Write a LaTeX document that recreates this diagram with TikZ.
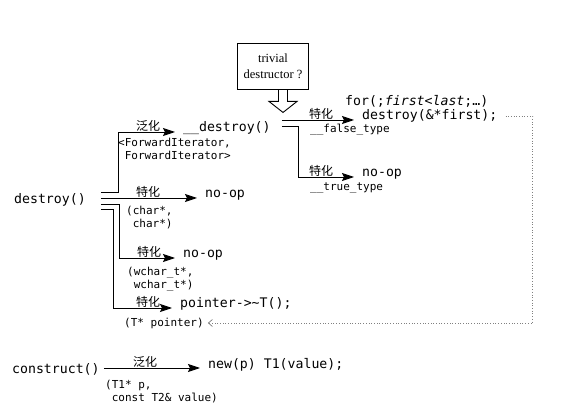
\documentclass[tikz,border=0pt]{standalone}
\usepackage{fontspec}
\usetikzlibrary{arrows.meta,calc}
\setmainfont{Liberation Serif}
\newfontfamily\code{DejaVu Sans Mono}
\newfontfamily\cjk{Noto Sans CJK SC}

\begin{document}
\begin{tikzpicture}[x=1pt, y=-1pt,
  every node/.style={inner sep=0pt},
  big/.style={font=\code\fontsize{13.2}{15}\selectfont},
  small/.style={font=\code\fontsize{11}{13}\selectfont, align=left, anchor=west},
  tag/.style={font=\cjk\fontsize{12}{13}\selectfont, anchor=south, inner sep=0.3pt},
  tgt/.style={big, anchor=base west, inner xsep=8pt},
  conn/.style={line width=0.9pt},
  arr/.style={conn, -{Stealth[length=12pt,width=8pt,inset=2pt]}},
  back/.style={dotted, line width=0.7pt, gray, -{Straight Barb[length=4pt,width=7pt]}}]
\useasboundingbox (0,0) rectangle (567,419);

% the question box and its hollow arrow
\node[draw, line width=0.9pt, minimum width=71pt, minimum height=46pt, align=center,
  font=\fontsize{12.5}{16}\selectfont] (triv) at (273,66) {trivial\\destructor ?};
\coordinate (ha) at ($(triv.south)+(10,0)$);
\draw[conn] (ha) ++(-4.5,0) -- ++(0,12) -- ++(-9.5,0) -- ($(ha)+(0,23)$) -- ++(14,-11) -- ++(-9.5,0) -- ++(0,-12);

% destroy() and its versions
\node[big, anchor=west] (destroy) at (14,200) {destroy()};
\node[tgt] (dd) at (175,132) {\_\_destroy()};
\node[tgt] (nop1) at (197,198) {no-op};
\node[tgt] (nop2) at (175,258) {no-op};
\node[tgt] (ptr) at (172,308) {pointer->\textasciitilde T();};

\node[small] (fwd) at (118,148.5) {<ForwardIterator,\\\hphantom{<}ForwardIterator>};
\node[small] (chr) at (126,217.5) {(char*,\\\hphantom{(}char*)};
\node[small] (wch) at (127,279) {(wchar\_t*,\\\hphantom{(}wchar\_t*)};
\node[small] (tptr) at (124,323) {(T* pointer)};

\coordinate (s) at ($(destroy.east)+(15,0)$);
\draw[arr] ($(s)+(0,-8)$) -- ++(18,0) |- (dd.base west);
\draw[arr] (s |- nop1.base west) -- (nop1.base west);
\draw[arr] ($(s)+(0,4)$) -- ++(19,0) |- (nop2.base west);
\draw[arr] ($(s)+(0,9)$) -- ++(13,0) |- (ptr.base west);

% __destroy() on the type of the destructor
\node[big, anchor=base west] (forl) at (345,106) {for(;\textit{first<last};…)};
\node[tgt] (dfirst) at (354,120) {destroy(\&*first);};
\node[tgt] (nop3) at (354,177) {no-op};
\node[small] (ft) at (310,130) {\_\_false\_type};
\node[small] (tt) at (310,188) {\_\_true\_type};

\coordinate (ds) at ($(dd.east)+(3,0)$);
\draw[arr] (ds |- dfirst.base west) -- (dfirst.base west);
\draw[arr] ($(ds)+(0,-2.5)$) -- ++(17,0) |- (nop3.base west);

\draw[back] (dfirst.east) -- ++(27,0) |- ([xshift=4pt]tptr.east);

% construct()
\node[big, anchor=west] (construct) at (12,369) {construct()};
\node[tgt] (newp) at (200,368) {new(p) T1(value);};
\node[small] (cargs) at (105,391.5) {(T1* p,\\\hphantom{(}const T2\& value)};
\coordinate (cs) at ([xshift=4pt]construct.east);
\draw[arr] (cs |- newp.base west) -- (newp.base west);

% generalised / specialised tags
\foreach \x/\y/\t [count=\i] in {148/132/泛化, 148/198/特化, 149/258/特化, 148/308/特化,
    321/120/特化, 321/177/特化, 145/368/泛化}
  \node[tag] (tag\i) at (\x,\y) {\t};
\end{tikzpicture}
\end{document}
